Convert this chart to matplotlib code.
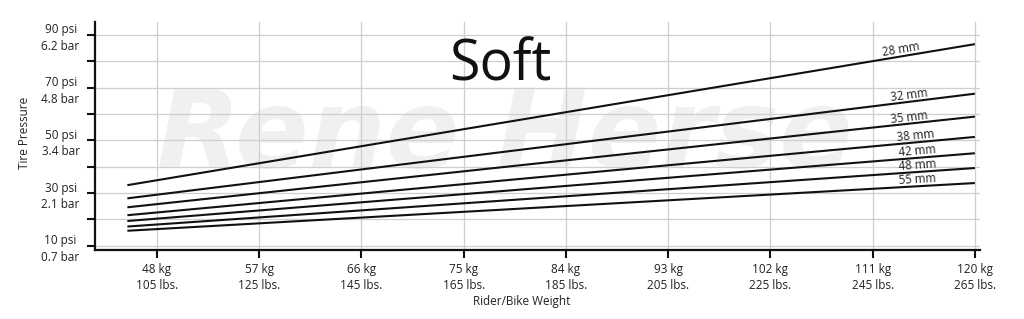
import matplotlib
matplotlib.use("Agg")
import matplotlib.pyplot as plt
import numpy as np

# ---- data ----
weights_kg = [45.4, 120]                     # rider/bike weight range (kg)
widths = ["28 mm", "32 mm", "35 mm", "38 mm", "42 mm", "48 mm", "55 mm"]
psi_start = [33.0, 28.0, 24.6, 21.6, 19.4, 17.3, 15.7]
psi_end = [86.5, 67.7, 59.0, 51.3, 45.1, 39.5, 33.8]

xtick_kg = [48, 57, 66, 75, 84, 93, 102, 111, 120]
xtick_lbs = [105, 125, 145, 165, 185, 205, 225, 245, 265]
ytick_psi = [10, 20, 30, 40, 50, 60, 70, 80, 90]
ytick_bar = {10: "0.7", 30: "2.1", 50: "3.4", 70: "4.8", 90: "6.2"}

label_kg = [113.6, 114.3, 114.3, 114.8, 114.95, 114.95, 115.0]

FONT = "Open Sans"
TXT = "#222222"

fig = plt.figure(figsize=(10.24, 3.19), dpi=100)
ax = fig.add_axes([95 / 1024, 69 / 319, 885 / 1024, 228 / 319])
ax.set_xlim(42.55, 120.45)
ax.set_ylim(8.4, 94.9)

# grid
ax.set_xticks(xtick_kg)
ax.set_yticks(ytick_psi)
ax.grid(True, color="#cfcfcf", linewidth=0.9, zorder=0)
ax.set_axisbelow(True)

# watermark
ax.text(48.0, 40, "Rene Herse", fontsize=78, fontweight="bold", style="italic",
        family="DejaVu Sans", color="#f0f0f0", ha="left", va="baseline", zorder=0.5)

# lines
for w, s, e, lk in zip(widths, psi_start, psi_end, label_kg):
    ax.plot(weights_kg, [s, e], color="#111111", linewidth=1.5, zorder=3,
            solid_capstyle="butt")
    yv = np.interp(lk, weights_kg, [s, e])
    p1 = ax.transData.transform((weights_kg[0], s))
    p2 = ax.transData.transform((weights_kg[1], e))
    ang = np.degrees(np.arctan2(p2[1] - p1[1], p2[0] - p1[0]))
    ax.text(lk, yv, w, fontsize=8.3, family=FONT, color=TXT,
            rotation=ang, rotation_mode="anchor", ha="center", va="bottom",
            transform_rotates_text=False, zorder=4)

# ticks
ax.set_xticklabels([f"{k} kg\n{l} lbs." for k, l in zip(xtick_kg, xtick_lbs)],
                   fontsize=8.5, family=FONT, color=TXT, linespacing=1.35)
ax.set_yticklabels([f"{p} psi\n{ytick_bar[p]} bar" if p in ytick_bar else ""
                    for p in ytick_psi],
                   fontsize=8.5, family=FONT, color=TXT, linespacing=1.35,
                   multialignment="center")
ax.tick_params(axis="both", direction="out", length=6, width=1.5, color="#111111")
ax.tick_params(axis="y", pad=5)
ax.tick_params(axis="x", pad=3)

for sp in ["top", "right"]:
    ax.spines[sp].set_visible(False)
for sp in ["left", "bottom"]:
    ax.spines[sp].set_linewidth(1.6)
    ax.spines[sp].set_color("#111111")

ax.set_ylabel("Tire Pressure", fontsize=8.5, family=FONT, color=TXT, va="center")
ax.yaxis.set_label_coords(-0.080, 0.513)
ax.set_xlabel("Rider/Bike Weight", fontsize=8.5, family=FONT, color=TXT, va="center")
ax.xaxis.set_label_coords(0.482, -0.224)

ax.text(0.4576, 0.7456, "Soft", transform=ax.transAxes, fontsize=40, family=FONT,
        color="#111111", ha="center", va="baseline", zorder=5)

fig.savefig("out.png", dpi=100, facecolor="white")
